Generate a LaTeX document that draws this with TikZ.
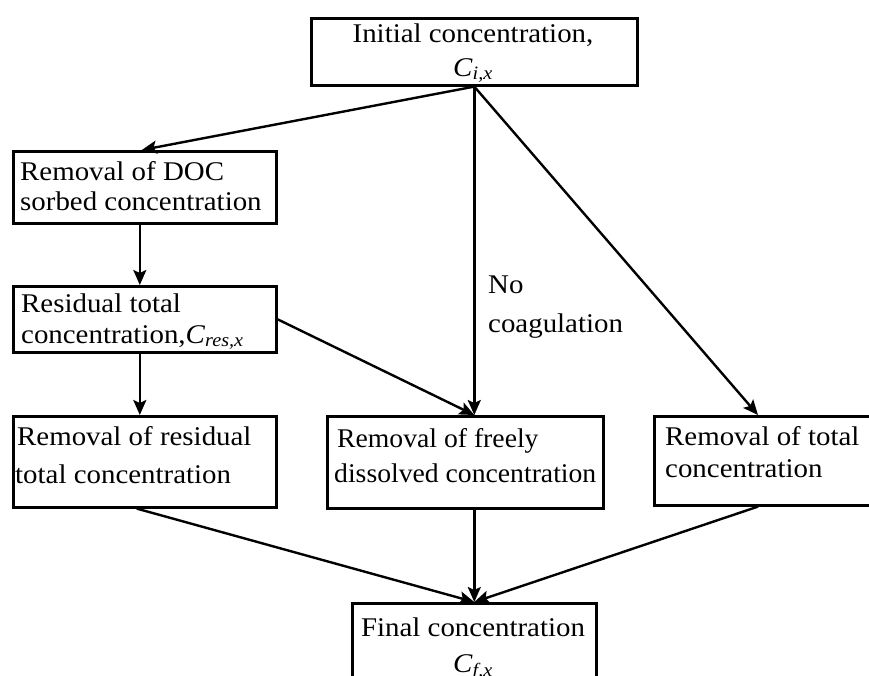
\documentclass[tikz,border=0pt]{standalone}
\usepackage{fontspec}
\setmainfont{Liberation Serif}
\usetikzlibrary{arrows.meta,calc}
\newcommand{\sx}[1]{\scalebox{1.07}[1]{#1}}
\newcommand{\sxm}[1]{\scalebox{1.025}[1]{#1}}
\newcommand{\Csub}[1]{\textit{C}\textsubscript{\textit{#1}}}
\begin{document}
\begin{tikzpicture}[x=1pt,y=-1pt,
 box/.style={draw,line width=2.6pt,inner sep=0pt,anchor=north west},
 lbl/.style={inner sep=0pt,anchor=base west,font=\fontsize{27}{27}\selectfont},
 clbl/.style={inner sep=0pt,anchor=base,font=\fontsize{27}{27}\selectfont},
 arr/.style={line width=2.4pt,-{Stealth[length=15pt,width=13pt,inset=3pt]}}]
\useasboundingbox (0,0) rectangle (869,675);
\clip (0,0) rectangle (869,675);
% boxes
\node[box,minimum width=326pt,minimum height=67pt] (top) at (310,17) {};
\node[box,minimum width=263pt,minimum height=72pt] (doc) at (12,150) {};
\node[box,minimum width=263pt,minimum height=66pt] (res) at (12,285) {};
\node[box,minimum width=263pt,minimum height=91pt] (lbox) at (12,415) {};
\node[box,minimum width=276pt,minimum height=92pt] (mbox) at (326,415) {};
\node[box,minimum width=240pt,minimum height=89pt] (rbox) at (653,415) {};
\node[box,minimum width=244pt,minimum height=100pt] (fbox) at (351,602) {};
% texts
\node[clbl] (t1) at (473,42) {\sx{Initial concentration,}};
\node[clbl] (t2) at (473,76) {\sx{\Csub{i,x}}};
\node[lbl] (d1) at (20,180) {\sx{Removal of DOC}};
\node[lbl] (d2) at (20,210) {\sx{sorbed concentration}};
\node[lbl] (r1) at (21,312) {\sx{Residual total}};
\node[lbl] (r2) at (21,343) {\sx{concentration,\Csub{res,x}}};
\node[lbl] (l1) at (17,445) {\sx{Removal of residual}};
\node[lbl] (l2) at (15,483) {\sx{total concentration}};
\node[lbl] (m1) at (337,447) {\sxm{Removal of freely}};
\node[lbl] (m2) at (334,482) {\sxm{dissolved concentration}};
\node[lbl] (q1) at (665,445) {\sx{Removal of total}};
\node[lbl] (q2) at (665,477) {\sx{concentration}};
\node[clbl] (f1) at (473,636) {\sx{Final concentration}};
\node[clbl] (f2) at (473,672) {\sx{\Csub{f,x}}};
\node[lbl] (n1) at (488,293) {\sx{No}};
\node[lbl] (n2) at (488,332) {\sx{coagulation}};
% connectors
\coordinate (o) at (top.south);
\draw[arr] (o) -- ($(doc.north)+(-3,0)$);
\draw[arr] (o) -- (mbox.north west -| o);
\draw[arr] (o) -- ($(rbox.north west)+(105,0)$);
\draw[arr] ($(doc.south)+(-5,0)$) -- ($(res.north)+(-5,0)$);
\draw[arr] ($(res.south)+(-5,0)$) -- ($(lbox.north)+(-5,0)$);
\draw[arr] (res.east) -- (mbox.north west -| o);
\draw[arr] ($(lbox.south)+(-8,0)$) -- (fbox.north west -| o);
\draw[arr] (mbox.south west -| o) -- (fbox.north west -| o);
\draw[arr] ($(rbox.south west)+(105,0)$) -- (fbox.north west -| o);
\end{tikzpicture}
\end{document}
